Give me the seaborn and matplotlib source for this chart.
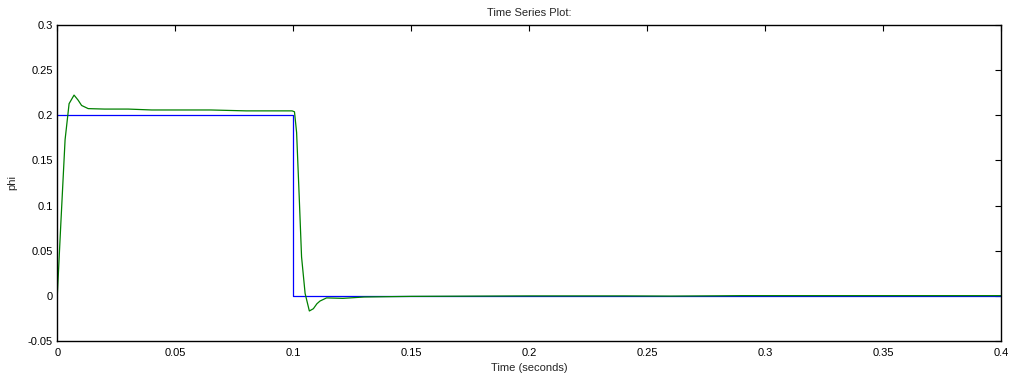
import numpy as np
import pandas as pd
import seaborn as sns
import matplotlib.pyplot as plt

# ----------------------------------------------------------------------------
# data
# ----------------------------------------------------------------------------

# reference signal (step down at t = 0.1)
ref_time = [0.0, 0.1, 0.1, 0.4]
ref_phi = [0.2, 0.2, 0.0, 0.0]

# measured response
resp_time = [0.0, 0.0015, 0.0033, 0.005, 0.0071, 0.0088, 0.0103, 0.0131, 0.02,
             0.03, 0.04, 0.065, 0.08, 0.0995, 0.1005, 0.1014, 0.1025, 0.1035,
             0.105, 0.1068, 0.1085, 0.1100, 0.1113, 0.1141, 0.121, 0.13, 0.15,
             0.2, 0.24, 0.26, 0.28, 0.29, 0.4]
resp_phi = [0.0, 0.08, 0.173, 0.213, 0.2225, 0.217, 0.211, 0.2075, 0.207,
            0.207, 0.206, 0.206, 0.205, 0.205, 0.204, 0.181, 0.11, 0.043,
            0.0025, -0.017, -0.0145, -0.009, -0.006, -0.0025, -0.003, -0.0015, -0.0008,
            -0.0003, -0.0003, -0.0005, -0.0002, 0.0, 0.0]

x_ticks = [0, 0.05, 0.1, 0.15, 0.2, 0.25, 0.3, 0.35, 0.4]
x_tick_labels = ["0", "0.05", "0.1", "0.15", "0.2", "0.25", "0.3", "0.35", "0.4"]
y_ticks = [-0.05, 0, 0.05, 0.1, 0.15, 0.2, 0.25, 0.3]
y_tick_labels = ["-0.05", "0", "0.05", "0.1", "0.15", "0.2", "0.25", "0.3"]

df_ref = pd.DataFrame({"time": ref_time, "phi": ref_phi})
df_resp = pd.DataFrame({"time": resp_time, "phi": resp_phi})

# ----------------------------------------------------------------------------
# plot
# ----------------------------------------------------------------------------

sns.set_style("white")
plt.rcParams['font.family'] = ['Liberation Sans', 'DejaVu Sans']

fig = plt.figure(figsize=(10.14, 3.74), dpi=100)
ax = fig.add_axes([0.0565, 0.089, 0.931, 0.8435])

sns.lineplot(data=df_ref, x="time", y="phi", sort=False, estimator=None,
             color=(0, 0, 1), linewidth=0.9, ax=ax)
sns.lineplot(data=df_resp, x="time", y="phi", sort=False, estimator=None,
             color=(0, 0.5, 0), linewidth=0.9, ax=ax)

ax.set_xlim(0, 0.4)
ax.set_ylim(-0.05, 0.3)
ax.set_xticks(x_ticks)
ax.set_xticklabels(x_tick_labels)
ax.set_yticks(y_ticks)
ax.set_yticklabels(y_tick_labels)
ax.tick_params(direction="in", top=True, right=True, length=4, width=0.8,
               labelsize=8, colors="black")
ax.tick_params(axis="x", pad=5)
ax.tick_params(axis="y", pad=3)

for side in ax.spines.values():
    side.set_color("black")
    side.set_linewidth(1.0)

ax.set_title("Time Series Plot:", fontsize=8, pad=7)
ax.set_xlabel("Time (seconds)", fontsize=8, labelpad=4)
ax.set_ylabel("phi", fontsize=8, labelpad=8)

fig.savefig("out.png", dpi=100)
